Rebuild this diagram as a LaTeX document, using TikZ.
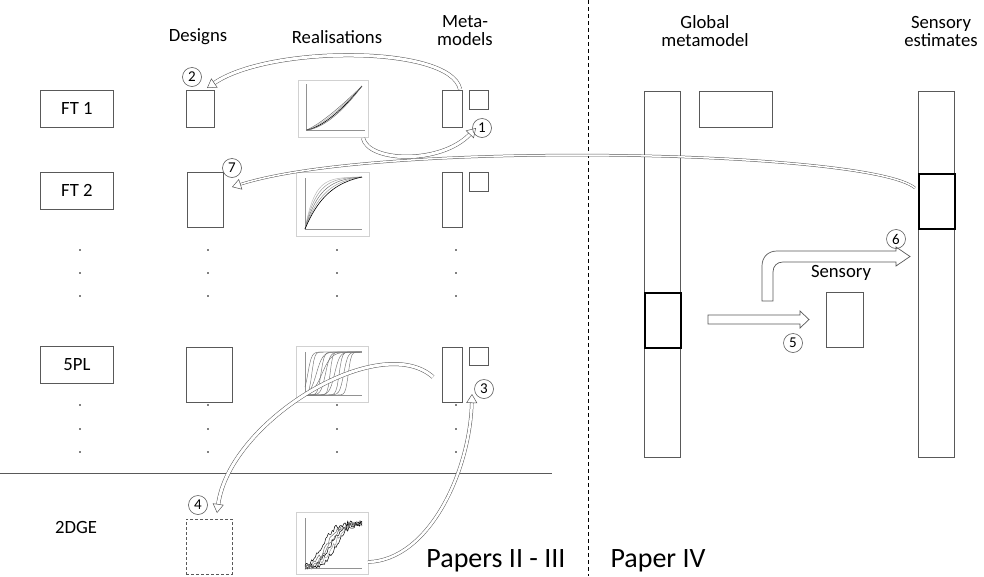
\documentclass[tikz,border=0pt]{standalone}
\usepackage{fontspec}
\setmainfont{Carlito}
\usetikzlibrary{arrows.meta,positioning,calc}
\definecolor{LineGrey}{gray}{0.35}
\definecolor{FrameGrey}{gray}{0.82}
\definecolor{CurveGrey}{gray}{0.45}

\begin{document}
\begin{tikzpicture}[>=Stealth,x=1pt,y=-1pt,
  font=\fontsize{18.7}{18}\selectfont,
  cell/.style 2 args={draw=LineGrey,line width=0.8pt,inner sep=0pt,anchor=north west,
    minimum width=#1,minimum height=#2},
  selbox/.style={cell={36}{55},draw=black,line width=1.6pt},
  frame/.style={draw=FrameGrey,line width=0.6pt},
  num/.style={circle,draw=LineGrey,line width=0.6pt,inner sep=0pt,minimum size=19pt,
    font=\fontsize{15}{15}\selectfont},
  hollow/.style={draw=LineGrey,line width=0.5pt,double=white,double distance=#1,
    -{Triangle[open,length=9pt,width=11pt]}},
  blockarrow/.style={draw=LineGrey,line width=0.7pt,fill=white}]
\useasboundingbox (0,0) rectangle (984,576);

% column heads
\node (hdes) at (198,37) {Designs};
\node (hreal) at (337,37) {Realisations};
\node[align=center] (hmeta) at (465,31) {Meta-\\models};
\node[align=center] (hglob) at (705,31) {Global\\metamodel};
\node[align=center] (hsens) at (941,31) {Sensory\\estimates};

% functions
\node[cell={73}{37}] (ft1) at (40,90) {FT 1};
\node[cell={73}{37}] (ft2) at (40,172) {FT 2};
\node[cell={73}{37}] (pl5) at (40,346) {5PL};
\node (dge) at (76,527) {2DGE};

% designs
\node[cell={28}{37}] (des1) at (186,90) {};
\node[cell={36}{55}] (des2) at (187,172) {};
\node[cell={46}{55}] (des3) at (186,347) {};
\node[cell={46}{55},dashed,dash pattern=on 3pt off 2pt] (des4) at (186,519) {};

% realisations
\node[cell={70}{57},frame] (real1) at (298,80) {};
\node[cell={73}{64},frame] (real2) at (296,172) {};
\node[cell={72}{56},frame] (real3) at (296,346) {};
\node[cell={72}{62},frame] (real4) at (296,512) {};

% FT 1 curves
\draw[FrameGrey!70!black,line width=0.6pt] (306,84) -- (306,130) -- (365,130);
\draw[CurveGrey,line width=0.5pt] plot[domain=0.01:1,samples=25] ({306+56*\x},{130-44*(\x)^1.25});
\draw[CurveGrey!60,line width=0.5pt] plot[domain=0.01:1,samples=25] ({306+56*\x},{130-44*(\x)^1.4});
\draw[black,line width=0.6pt] plot[domain=0.01:1,samples=25] ({306+56*\x},{130-44*(\x)^1.55});
\draw[CurveGrey,line width=0.5pt] plot[domain=0.01:1,samples=25] ({306+56*\x},{130-44*(\x)^1.7});

% FT 2 curves
\draw[FrameGrey!70!black,line width=0.6pt] (305,178) -- (305,229) -- (362,229);
\draw[CurveGrey!50,line width=0.5pt] plot[domain=0:1,samples=25] ({305+57*\x},{229-52*(1-exp(-6*\x))/(1-exp(-6))});
\draw[CurveGrey!70,line width=0.5pt] plot[domain=0:1,samples=25] ({305+57*\x},{229-52*(1-exp(-4.8*\x))/(1-exp(-4.8))});
\draw[CurveGrey,line width=0.5pt] plot[domain=0:1,samples=25] ({305+57*\x},{229-52*(1-exp(-3.8*\x))/(1-exp(-3.8))});
\draw[CurveGrey!70,line width=0.5pt] plot[domain=0:1,samples=25] ({305+57*\x},{229-52*(1-exp(-3*\x))/(1-exp(-3))});
\draw[black,line width=0.6pt] plot[domain=0:1,samples=25] ({305+57*\x},{229-52*(1-exp(-2.4*\x))/(1-exp(-2.4))});

% 5PL curves
\draw[FrameGrey!70!black,line width=0.6pt] (305,352) -- (305,395) -- (362,395);
\foreach \c/\s in {0.05/30,0.12/40,0.2/18,0.28/35,0.36/25,0.44/45,0.52/22,0.6/38,0.68/28,0.76/40,0.3/12}
  \draw[CurveGrey,line width=0.45pt] plot[domain=0:1,samples=40] ({305+57*\x},{395-43/(1+exp(max(-8,min(8,-\s*(\x-\c)))))});

% 2DGE curves
\pgfmathsetseed{7}
\draw[FrameGrey!70!black,line width=0.6pt] (305,518) -- (305,568) -- (362,568);
\foreach \c/\g in {0.3/black,0.38/CurveGrey,0.45/black,0.5/CurveGrey!70,0.55/black,0.42/CurveGrey}
  \draw[\g,line width=0.5pt] plot[domain=0:1,samples=45] ({305+57*\x},{568-45/(1+exp(-9*(\x-\c)))+2.5*rand});

% metamodels
\node[cell={20}{37}] (meta1) at (442,90) {};
\node[cell={19}{19}] (sq1) at (469,90) {};
\node[cell={20}{55}] (meta2) at (442,172) {};
\node[cell={19}{19}] (sq2) at (469,172) {};
\node[cell={20}{55}] (meta3) at (442,347) {};
\node[cell={19}{18}] (sq3) at (469,347) {};

% dots
\foreach \xx in {80,208,337,456}
  \foreach \yy in {250,273,296,405,429,452}
    \fill (\xx,\yy) circle (0.8);

% separators
\draw[LineGrey,line width=0.8pt] (0,473) -- (552,473);
\draw[black,line width=0.9pt,dash pattern=on 4pt off 3pt] (588,0) -- (588,576);

% global metamodel and sensory estimates
\node[cell={36}{366}] (glob) at (644,91) {};
\node[selbox] (gsel) at (644,292) {};
\node[cell={73}{36}] (grect) at (699,91) {};
\node[cell={36}{366}] (sest) at (918,91) {};
\node[selbox] (ssel) at (918,173) {};
\node[cell={37}{55}] (srect) at (826,292) {};
\node (hsensmid) at (841,273) {Sensory};

% block arrows
\draw[blockarrow] (708,315) -- (800,315) -- (800,311) -- (809,319.5) -- (800,328) -- (800,324) -- (708,324) -- cycle;
\draw[blockarrow] (762,301) -- (762,266) .. controls (762,257) and (768,251) .. (777,251) -- (896,251) -- (896,247)
  -- (910,256.5) -- (896,266) -- (896,262) -- (783,262) .. controls (777,262) and (773,266) .. (773,272) -- (773,301) -- cycle;

% numbers
\node[num] (n1) at (482,128) {1};
\node[num] (n2) at (192,77) {2};
\node[num] (n3) at (484,389) {3};
\node[num] (n4) at (198,505) {4};
\node[num] (n5) at (793,343) {5};
\node[num] (n6) at (896,239) {6};
\node[num] (n7) at (232,168) {7};

% curved arrows
\coordinate (t1) at (363,138);
\coordinate (t2) at (460,89);
\coordinate (t3) at (368,562);
\coordinate (t4) at (433,377);
\coordinate (t7) at (915,188);
\coordinate (e1) at (476,128);
\coordinate (e2) at (207,88);
\coordinate (e3) at (472,394);
\coordinate (e4) at (217,513);
\coordinate (e7) at (232,187);
\draw[hollow=3pt] (t1) .. controls (368,162) and (440,165) .. (e1);
\draw[hollow=3pt] (t2) .. controls (450,45) and (270,45) .. (e2);
\draw[hollow=2.5pt] (t3) .. controls (430,560) and (470,470) .. (e3);
\draw[hollow=3pt] (t4) .. controls (380,330) and (230,420) .. (e4);
\draw[hollow=1.5pt] (t7) .. controls (870,150) and (380,140) .. (e7);

% papers
\node[anchor=base east,font=\fontsize{28}{28}\selectfont] (tpap) at (569,567) {Papers II - III};
\node[anchor=base west,font=\fontsize{28}{28}\selectfont] (tpiv) at (607,567) {Paper IV};
\end{tikzpicture}
\end{document}
